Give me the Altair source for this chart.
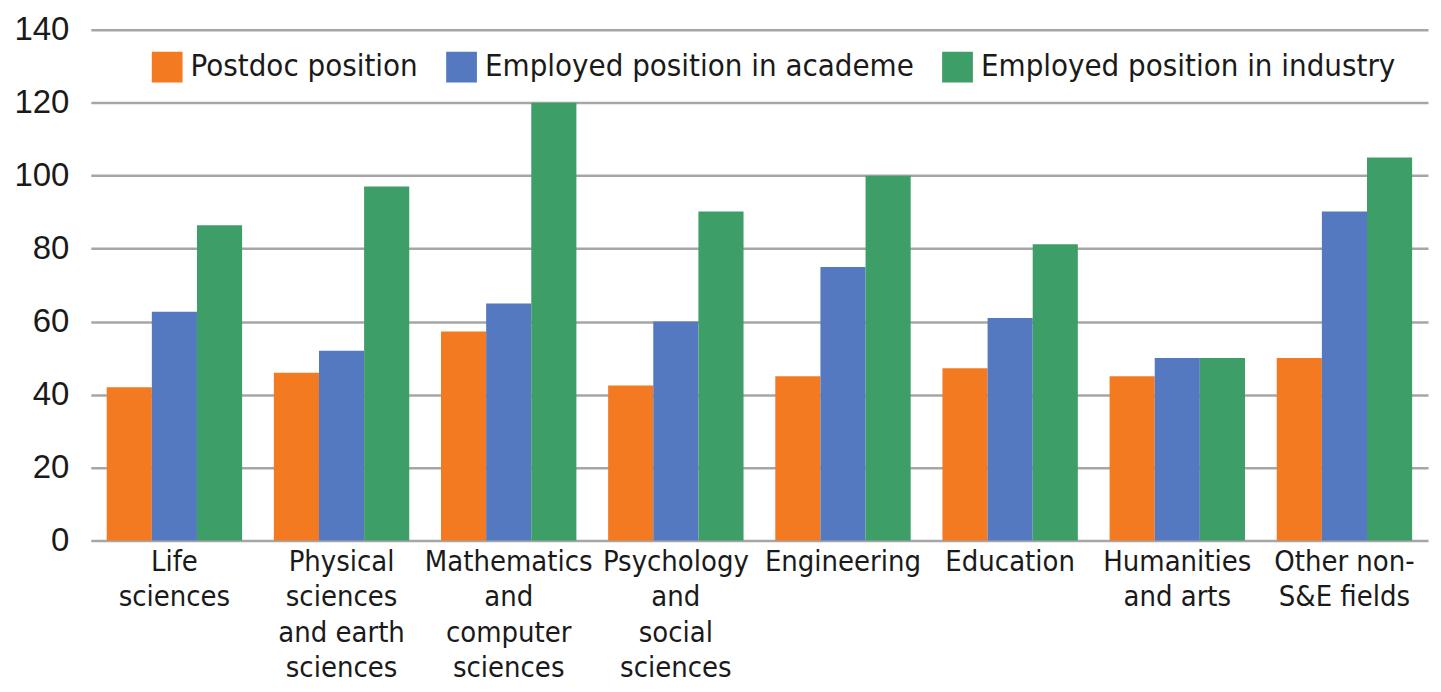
import altair as alt
import pandas as pd

categories = [
    "Life sciences",
    "Physical sciences and earth sciences",
    "Mathematics and computer sciences",
    "Psychology and social sciences",
    "Engineering",
    "Education",
    "Humanities and arts",
    "Other non-S&E fields",
]
label_lines = [
    ["Life", "sciences"],
    ["Physical", "sciences", "and earth", "sciences"],
    ["Mathematics", "and", "computer", "sciences"],
    ["Psychology", "and", "social", "sciences"],
    ["Engineering"],
    ["Education"],
    ["Humanities", "and arts"],
    ["Other non-", "S&E fields"],
]
series = ["Postdoc position", "Employed position in academe", "Employed position in industry"]
colors = ["#F37A21", "#5479C1", "#3E9E67"]

postdoc = [42, 46, 57.3, 42.5, 45, 47.2, 45, 50]
academe = [62.7, 52, 65, 60, 75, 61, 50, 90.2]
industry = [86.4, 97, 120, 90.2, 100, 81.2, 50, 105]

rows = []
for i, c in enumerate(categories):
    for s, vals in zip(series, [postdoc, academe, industry]):
        rows.append({"category": c, "series": s, "value": vals[i]})
df = pd.DataFrame(rows)

expr = "datum.label"
for c, lines in reversed(list(zip(categories, label_lines))):
    arr = "[" + ",".join("'" + l + "'" for l in lines) + "]"
    expr = f"datum.label == '{c}' ? {arr} : ({expr})"

FONT = "DejaVu Sans Condensed, Roboto, sans-serif"

chart = (
    alt.Chart(df)
    .mark_bar()
    .encode(
        x=alt.X(
            "category:N",
            sort=categories,
            scale=alt.Scale(paddingInner=0.19, paddingOuter=0.095),
            axis=alt.Axis(
                title=None,
                labelAngle=0,
                labelExpr=expr,
                ticks=False,
                domain=False,
                labelFont=FONT,
                labelFontSize=29,
                labelLineHeight=35.5,
                labelPadding=7,
                labelColor="#1a1a1a",
                labelBaseline="top",
                labelLimit=300,
            ),
        ),
        xOffset=alt.XOffset("series:N", sort=series, scale=alt.Scale(paddingInner=0, paddingOuter=0)),
        y=alt.Y(
            "value:Q",
            scale=alt.Scale(domain=[0, 140], nice=False),
            axis=alt.Axis(
                title=None,
                values=list(range(0, 141, 20)),
                domain=False,
                ticks=False,
                labelPadding=22,
                labelFont="Liberation Sans",
                labelFontSize=33,
                labelColor="#1a1a1a",
                gridColor="#A6A6A6",
                gridWidth=2.5,
            ),
        ),
        color=alt.Color(
            "series:N",
            sort=series,
            scale=alt.Scale(domain=series, range=colors),
            legend=alt.Legend(
                title=None,
                orient="none",
                direction="horizontal",
                legendX=61,
                legendY=22,
                symbolType="square",
                symbolSize=950,
                symbolStrokeWidth=0,
                symbolOpacity=1,
                labelFont=FONT,
                labelFontSize=31,
                labelColor="#1a1a1a",
                labelOffset=8,
                columnPadding=28,
                labelLimit=500,
            ),
        ),
    )
    .properties(
        width=1340,
        height=512,
        padding={"left": 5, "top": 5, "right": 5, "bottom": 0},
    )
    .configure_view(stroke=None)
)

chart.save("out.html", embed_options={"renderer": "svg", "actions": False})
